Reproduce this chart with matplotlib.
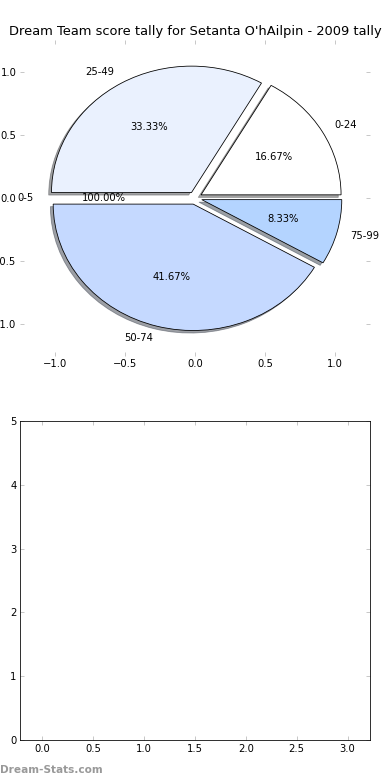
import matplotlib
matplotlib.use('Agg')
import matplotlib.pyplot as plt
from matplotlib.patches import Shadow

# score bands and counts
bands = ['0-24', '25-49', '0-5', '50-74', '75-99']
counts = [2, 4, 0, 5, 1]
pct_labels = ['16.67%', '33.33%', '100.00%', '41.67%', '8.33%']
colours = ['#ffffff', '#eaf1fe', '#dbe7ff', '#c5d9ff', '#b4d4ff']
explode = [0.05, 0.05, 0.05, 0.05, 0.05]

bar_xlim = (-0.22, 3.22)
bar_ylim = (0, 5)

plt.rcParams['font.family'] = 'DejaVu Sans'
plt.rcParams['font.size'] = 10

fig = plt.figure(figsize=(390 / 72, 780 / 72), dpi=72)

# pie on top
ax1 = fig.add_axes([20 / 390, 1 - 356 / 780, 350 / 390, 316 / 780])
wedges, texts, autotexts = ax1.pie(counts, labels=bands, colors=colours, explode=explode,
                                   autopct='%.2f%%', shadow=True, frame=True,
                                   wedgeprops={'edgecolor': 'black', 'linewidth': 0.8})
for t, s in zip(autotexts, pct_labels):
    t.set_text(s)

# the empty band has no wedge to show
for w, c in zip(wedges, counts):
    if c == 0:
        w.set_visible(False)
for p in list(ax1.patches):
    if isinstance(p, Shadow) and not p.patch.get_visible():
        p.set_visible(False)

ax1.set_aspect('auto')
ax1.set_xlim(-1.25, 1.25)
ax1.set_ylim(-1.25, 1.25)
ax1.set_xticks([-1.0, -0.5, 0.0, 0.5, 1.0])
ax1.set_yticks([-1.0, -0.5, 0.0, 0.5, 1.0])
for sp in ax1.spines.values():
    sp.set_visible(False)
ax1.tick_params(direction='in', color='#bbbbbb', length=4, top=True, right=True)
ax1.set_title("Dream Team score tally for Setanta O'hAilpin - 2009 tally", fontsize=13, pad=5)

# empty axes below
ax2 = fig.add_axes([20 / 390, 40 / 780, 350 / 390, 319 / 780])
ax2.set_xlim(*bar_xlim)
ax2.set_ylim(*bar_ylim)
ax2.set_xticks([0.0, 0.5, 1.0, 1.5, 2.0, 2.5, 3.0])
ax2.set_yticks([0, 1, 2, 3, 4, 5])
ax2.tick_params(direction='in', color='#bbbbbb', length=4, top=True, right=True)

fig.text(0.0, 10 / 780, 'Dream-Stats.com', color='#999999', fontsize=10.5, fontweight='bold',
         ha='left', va='center')

fig.savefig('out.png', dpi=72)
